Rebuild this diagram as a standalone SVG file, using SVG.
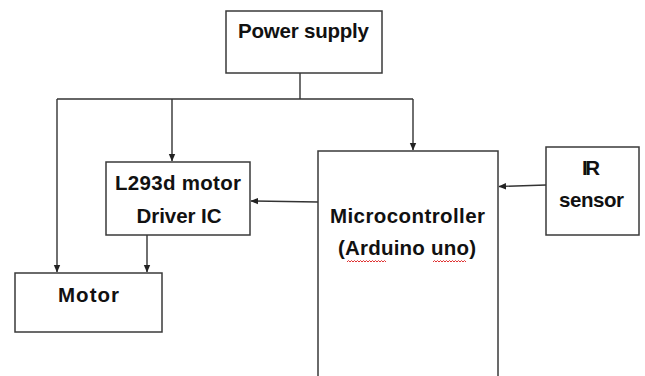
<svg xmlns="http://www.w3.org/2000/svg" width="645" height="376" viewBox="0 0 645 376">
<defs>
<marker id="ah" markerWidth="8" markerHeight="8" refX="7" refY="4" orient="auto" markerUnits="userSpaceOnUse">
<path d="M0,0.8 L7.5,4 L0,7.2 Z" fill="#222"/>
</marker>
<style>
.box{fill:#fff;stroke:#3a3a3a;stroke-width:1.5}
.t{font-family:"Liberation Sans",Arial,sans-serif;font-weight:bold;font-size:20.5px;fill:#111;text-anchor:middle}
.c{fill:none;stroke:#333;stroke-width:1.4}
</style>
</defs>
<rect width="645" height="376" fill="#fff"/>
<g id="connectors">
<path class="c" d="M300,73 V99"/>
<path class="c" d="M57,99 H413"/>
<path class="c" d="M57,99 V272" marker-end="url(#ah)"/>
<path class="c" d="M172,99 V161" marker-end="url(#ah)"/>
<path class="c" d="M413,99 V150" marker-end="url(#ah)"/>
<path class="c" d="M318,202 L251,201" marker-end="url(#ah)"/>
<path class="c" d="M546,185 L499,186.5" marker-end="url(#ah)"/>
<path class="c" d="M147,235 V272" marker-end="url(#ah)"/>
</g>
<g id="power">
<rect class="box" x="226" y="11" width="156" height="62"/>
<text class="t" x="303.5" y="38" textLength="131">Power supply</text>
</g>
<g id="driver">
<rect class="box" x="106" y="162" width="144" height="73"/>
<text class="t" x="178" y="190" textLength="126">L293d motor</text>
<text class="t" x="179" y="223" textLength="85">Driver IC</text>
</g>
<g id="motor">
<rect class="box" x="15" y="273" width="147" height="59"/>
<text class="t" x="88.5" y="302" textLength="61">Motor</text>
</g>
<g id="micro">
<rect class="box" x="318" y="151" width="180" height="240"/>
<text class="t" x="407.5" y="223" textLength="155">Microcontroller</text>
<text class="t" x="407" y="255" textLength="138">(Arduino uno)</text>
<path d="M347,262 l1.5,-1.5 l1.5,1.5 l1.5,-1.5 l1.5,1.5 l1.5,-1.5 l1.5,1.5 l1.5,-1.5 l1.5,1.5 l1.5,-1.5 l1.5,1.5 l1.5,-1.5 l1.5,1.5 l1.5,-1.5 l1.5,1.5 l1.5,-1.5 l1.5,1.5 l1.5,-1.5 l1.5,1.5 l1.5,-1.5 l1.5,1.5 l1.5,-1.5 l1.5,1.5 l1.5,-1.5 l1.5,1.5 l1.5,-1.5 l1.5,1.5 M433,262 l1.5,-1.5 l1.5,1.5 l1.5,-1.5 l1.5,1.5 l1.5,-1.5 l1.5,1.5 l1.5,-1.5 l1.5,1.5 l1.5,-1.5 l1.5,1.5 l1.5,-1.5 l1.5,1.5 l1.5,-1.5 l1.5,1.5 l1.5,-1.5 l1.5,1.5 l1.5,-1.5 l1.5,1.5 l1.5,-1.5 l1.5,1.5 l1.5,-1.5 l1.5,1.5" fill="none" stroke="#e03030" stroke-width="1"/>
</g>
<g id="ir">
<rect class="box" x="546" y="147" width="93" height="88"/>
<text class="t" x="591" y="175" textLength="18">IR</text>
<text class="t" x="591.5" y="207" textLength="65">sensor</text>
</g>
</svg>
